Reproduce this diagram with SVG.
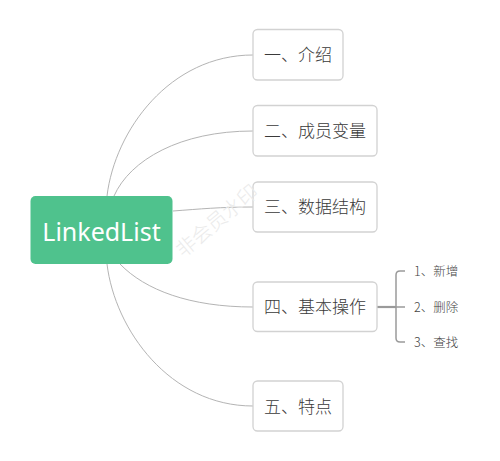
<svg xmlns="http://www.w3.org/2000/svg" width="500" height="461" viewBox="0 0 500 461">
<style>
.box{fill:#fff;stroke:#d2d2d2;stroke-width:1.3}
.lbl{font-family:"Noto Sans CJK SC","Noto Sans",sans-serif;font-size:17px;font-weight:300;fill:#3a3a3a;text-anchor:middle}
.sub{font-family:"Noto Sans CJK SC","Noto Sans",sans-serif;font-size:12.5px;font-weight:300;fill:#444}
.conn{fill:none;stroke:#b4b4b4;stroke-width:1}
.br{fill:none;stroke:#9a9a9a;stroke-width:1.5}
</style>
<rect width="500" height="461" fill="#fff"/>
<g id="connectors">
<path class="conn" d="M107,196 C115,130 170,55 253,55"/>
<path class="conn" d="M114,196 C130,160 180,131 253,131"/>
<path class="conn" d="M173,211 C200,209 220,207 253,207"/>
<path class="conn" d="M120,264 C145,290 190,307 253,307"/>
<path class="conn" d="M107,264 C115,330 170,406 253,406"/>
<path d="M377,307 H396" stroke="#9a9a9a" stroke-width="2.2" fill="none"/>
<path class="br" d="M405,271 H400 Q396,271 396,275 V338 Q396,342 400,342 H405"/>
<path class="br" d="M396,307 H405"/>
</g>
<g id="root">
<rect x="30.5" y="196" width="142" height="68" rx="5" fill="#4fc28d"/>
<text x="101.5" y="240.5" font-family="'Noto Sans','Open Sans',sans-serif" font-size="25" fill="#fff" text-anchor="middle">LinkedList</text>
</g>
<g id="n1"><rect class="box" x="253" y="29.5" width="90" height="50.5" rx="4.5"/><text class="lbl" x="298" y="61">一、介绍</text></g>
<g id="n2"><rect class="box" x="253" y="105.5" width="124" height="50.5" rx="4.5"/><text class="lbl" x="315" y="137">二、成员变量</text></g>
<g id="n3"><rect class="box" x="253" y="182" width="124" height="50" rx="4.5"/><text class="lbl" x="315" y="213">三、数据结构</text></g>
<g id="n4"><rect class="box" x="253" y="282" width="124" height="49.5" rx="4.5"/><text class="lbl" x="315" y="313">四、基本操作</text></g>
<g id="n5"><rect class="box" x="253" y="381" width="90" height="50" rx="4.5"/><text class="lbl" x="298" y="412.5">五、特点</text></g>
<g id="s1"><text class="sub" x="414" y="276">1、新增</text></g>
<g id="s2"><text class="sub" x="414" y="311.5">2、删除</text></g>
<g id="s3"><text class="sub" x="414" y="346.5">3、查找</text></g>
<text x="0" y="0" transform="translate(218,222) rotate(-40)" font-family="'Noto Sans CJK SC',sans-serif" font-size="20" font-weight="300" fill="#ebebeb" text-anchor="middle" dominant-baseline="middle">非会员水印</text>
</svg>
